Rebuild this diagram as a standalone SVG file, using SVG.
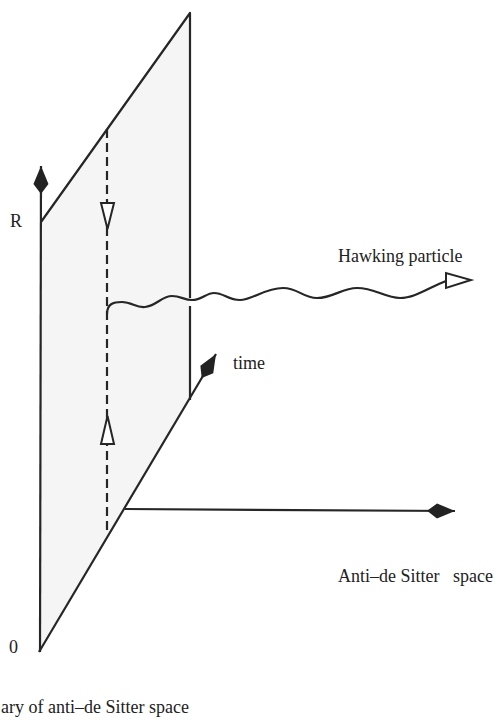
<svg xmlns="http://www.w3.org/2000/svg" width="497" height="726" viewBox="0 0 497 726">
<style>
.ln{fill:none;stroke:#262626;stroke-width:2.2;stroke-linejoin:round}
.dash{fill:none;stroke:#262626;stroke-width:2.2;stroke-dasharray:9 5}
.open{fill:#fff;stroke:#262626;stroke-width:2;stroke-linejoin:miter}
.t{font-family:"Liberation Serif","Times New Roman",serif;font-size:18px;fill:#222}
</style>
<defs>
<marker id="kite" markerUnits="userSpaceOnUse" markerWidth="34" markerHeight="20" viewBox="-30 -10 32 20" refX="0" refY="0" orient="auto">
<path d="M0,0 L-18,-7.5 L-28,0 L-18,7.5 Z" fill="#222"/>
</marker>
</defs>
<g id="plane">
<polygon points="41,222 190,13 190,400 39,652" fill="#f5f5f5"/>
<path class="ln" d="M41,222 L190,13 L190,298 M190,306 L190,400"/>
</g>
<g id="axes">
<path class="ln" d="M40,652 L41,166" marker-end="url(#kite)"/>
<path class="ln" d="M39,652 L216,354" marker-end="url(#kite)"/>
<path class="ln" d="M125,509 L455,511" marker-end="url(#kite)"/>
</g>
<g id="dashed-path">
<path class="dash" d="M107,129 L107,535"/>
<polygon class="open" points="101,203 114,203 107.5,229"/>
<polygon class="open" points="101,444 114,444 107.5,416"/>
</g>
<g id="hawking-particle">
<path class="ln" d="M107,314 C107,304 113,302 122,302 C132,302 136,308 145,307 C156,306 162,296 172,296 C181,296 184,300 192,300 C202,300 206,293 214,293 C224,293 228,300 240,300 C252,300 265,288 283,288 C298,288 303,298 317,298 C333,298 342,288 357,288 C375,288 385,298 400,298 C415,298 430,287 446,281"/>
<polygon class="open" points="446,273 446,288 471,280"/>
</g>
<g id="labels">
<text class="t" x="10" y="227">R</text>
<text class="t" x="9" y="653">0</text>
<text class="t" x="338" y="262">Hawking particle</text>
<text class="t" x="233" y="369">time</text>
<text class="t" x="338" y="582" xml:space="preserve">Anti–de Sitter   space</text>
<text class="t" x="1" y="713">ary of anti–de Sitter space</text>
</g>
</svg>
